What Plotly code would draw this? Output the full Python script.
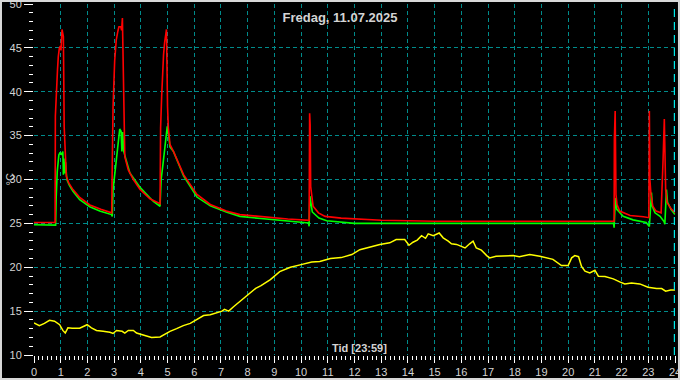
import plotly.graph_objects as go

TITLE = "Fredag, 11.07.2025"
NOW = "23:59"
Y_LABEL = "°C"

x_tick_vals = list(range(0, 25))
y_tick_vals = [10, 15, 20, 25, 30, 35, 40, 45, 50]
x_grid_vals = x_tick_vals[1:-1]
y_grid_vals = y_tick_vals[1:-1]

red_t = [0.0, 0.79, 0.80, 0.84, 0.88, 0.91, 0.95, 0.99, 1.01, 1.05, 1.10, 1.13, 1.17, 1.21, 1.30, 1.46,
         1.70, 2.09, 2.50, 2.91, 2.93, 2.96, 3.02, 3.08, 3.14, 3.18, 3.25, 3.28, 3.31, 3.36, 3.40, 3.53,
         3.72, 3.97, 4.34, 4.72, 4.74, 4.78, 4.81, 4.85, 4.89, 4.92, 4.96, 5.00, 5.03, 5.09, 5.22, 5.60,
         6.10, 6.60, 7.20, 7.71, 8.5, 9.0, 9.5, 10.30, 10.32, 10.34, 10.36, 10.45, 10.65, 10.9, 11.5,
         12.0, 13.0, 15.0, 21.72, 21.73, 21.76, 21.79, 21.83, 21.93, 22.32, 22.82, 23.02, 23.04, 23.06,
         23.10, 23.17, 23.29, 23.48, 23.55, 23.60, 23.65, 23.70, 23.87, 24.02]
red_v = [25.1, 25.1, 37.2, 40.6, 42.5, 44.0, 45.0, 45.2, 44.7, 47.1, 46.3, 36.0, 31.8, 30.4, 29.6, 28.85,
         28.0, 27.1, 26.6, 26.2, 31.7, 38.3, 43.5, 45.9, 46.9, 47.4, 47.4, 47.0, 48.4, 36.8, 32.6, 31.1,
         30.0, 28.85, 27.8, 27.25, 35.9, 39.5, 42.5, 44.2, 45.6, 46.4, 47.1, 38.3, 35.9, 34.0, 33.2, 30.55,
         28.3, 27.15, 26.4, 26.0, 25.75, 25.6, 25.5, 25.35, 37.55, 36.2, 29.2, 26.95, 26.2, 25.8, 25.6,
         25.5, 25.35, 25.25, 25.25, 34.55, 37.8, 28.3, 27.15, 26.4, 25.9, 25.75, 25.65, 37.8, 30.0,
         28.3, 26.95, 26.4, 26.2, 31.9, 36.9, 28.85, 27.4, 26.6, 26.2]

green_t = [0.0, 0.5, 0.81, 0.83, 0.87, 0.93, 0.98, 1.03, 1.08, 1.10, 1.12, 1.15, 1.18, 1.23, 1.33, 1.46,
           1.71, 2.09, 2.46, 2.90, 2.93, 2.96, 3.03, 3.09, 3.15, 3.21, 3.26, 3.29, 3.32, 3.36, 3.44, 3.59,
           3.97, 4.47, 4.72, 4.76, 4.82, 4.87, 4.93, 4.99, 5.04, 5.09, 5.22, 5.60, 6.10, 6.60, 7.20, 7.71,
           8.5, 9.5, 10.28, 10.30, 10.33, 10.42, 10.67, 10.96, 11.5, 12.0, 21.70, 21.72, 21.77, 21.82,
           22.06, 22.43, 22.92, 23.04, 23.12, 23.15, 23.25, 23.44, 23.59, 23.62, 23.68, 23.72, 23.85, 24.0]
green_v = [24.85, 24.8, 24.8, 27.9, 30.9, 32.8, 33.1, 32.8, 33.2, 30.55, 32.4, 30.7, 32.0, 30.0, 29.3, 28.65,
           27.7, 26.9, 26.4, 26.0, 25.8, 28.85, 30.75, 32.8, 34.7, 35.75, 35.5, 33.2, 35.4, 33.2, 32.3, 30.75,
           29.1, 27.5, 26.95, 30.0, 31.5, 33.0, 35.1, 36.05, 35.1, 33.7, 33.2, 30.4, 28.0, 27.0, 26.3, 25.8,
           25.55, 25.3, 25.05, 24.67, 28.1, 26.3, 25.6, 25.3, 25.1, 25.0, 25.0, 24.5, 27.9, 26.6,
           25.8, 25.4, 25.1, 24.65, 28.5, 26.95, 26.2, 25.8, 25.2, 24.9, 28.85, 27.4, 26.6, 26.0]

yellow_t = [0.0, 0.2, 0.39, 0.58, 0.77, 0.96, 1.08, 1.17, 1.27, 1.43, 1.71, 1.99, 2.15, 2.34, 2.59, 2.84,
            2.96, 3.09, 3.3, 3.4, 3.53, 3.72, 3.84, 4.03, 4.22, 4.4, 4.72, 4.9, 5.09, 5.34, 5.59, 5.85,
            6.1, 6.35, 6.6, 6.85, 7.04, 7.13, 7.29, 7.47, 7.66, 8.0, 8.3, 8.5, 8.85, 9.2, 9.6, 10.0,
            10.4, 10.7, 11.1, 11.5, 11.9, 12.2, 12.57, 12.95, 13.32, 13.56, 13.88, 14.04, 14.19, 14.35,
            14.51, 14.66, 14.76, 14.95, 15.17, 15.32, 15.51, 15.63, 15.82, 16.0, 16.14, 16.31, 16.44,
            16.56, 16.75, 16.95, 17.06, 17.3, 17.68, 17.94, 18.17, 18.56, 18.94, 19.2, 19.43, 19.75,
            20.0, 20.13, 20.25, 20.39, 20.5, 20.63, 20.81, 21.0, 21.13, 21.38, 21.69, 21.93, 22.12,
            22.37, 22.68, 22.99, 23.31, 23.5, 23.65, 23.84, 24.0]
yellow_v = [13.65, 13.35, 13.6, 13.95, 13.85, 13.45, 12.8, 12.5, 13.1, 13.05, 13.05, 13.45, 13.1, 12.8, 12.7, 12.6,
            12.45, 12.8, 12.7, 12.5, 12.8, 12.8, 12.5, 12.35, 12.15, 12.0, 12.05, 12.35, 12.7, 13.0, 13.35, 13.6,
            14.05, 14.5, 14.6, 14.8, 15.0, 15.2, 15.0, 15.5, 16.0, 16.8, 17.6, 17.9, 18.6, 19.5, 20.0, 20.3,
            20.6, 20.65, 21.0, 21.1, 21.45, 22.0, 22.33, 22.6, 22.78, 23.15, 23.15, 22.5, 22.85, 23.1,
            23.6, 23.3, 23.8, 23.6, 23.9, 23.35, 22.97, 22.67, 22.6, 22.4, 22.2, 22.67, 22.97,
            22.2, 21.95, 21.33, 21.07, 21.26, 21.26, 21.33, 21.2, 21.45, 21.26, 21.07, 20.9, 20.2,
            20.2, 21.07, 21.33, 21.2, 20.1, 19.55, 19.36, 19.66, 18.98, 18.95, 18.68, 18.33, 18.1,
            18.2, 18.1, 17.72, 17.57, 17.57, 17.27, 17.4, 17.4]

now_h = int(NOW.split(":")[0]) + int(NOW.split(":")[1]) / 60.0

FONT = "Liberation Sans, Arial, sans-serif"
GRID = "#008b8b"
TXT = "#d4d4d4"

fig = go.Figure()
# empty trace that only carries the interior grid axes
fig.add_trace(go.Scatter(x=[], y=[], xaxis="x2", yaxis="y2", showlegend=False, hoverinfo="skip"))
fig.add_trace(go.Scatter(x=yellow_t, y=yellow_v, mode="lines",
                         line=dict(color="#ffff00", width=1.5), showlegend=False, hoverinfo="skip"))
fig.add_trace(go.Scatter(x=green_t, y=green_v, mode="lines",
                         line=dict(color="#00ff00", width=1.6), showlegend=False, hoverinfo="skip"))
fig.add_trace(go.Scatter(x=red_t, y=red_v, mode="lines",
                         line=dict(color="#ff0000", width=1.6), showlegend=False, hoverinfo="skip"))

# current-time marker
fig.add_shape(type="line", xref="x", yref="paper", x0=now_h, x1=now_h, y0=0, y1=1,
              line=dict(color="#00e8e8", width=1.5, dash="8px,5px"), layer="above")

# outer frame of the picture
fig.add_shape(type="rect", xref="paper", yref="paper",
              x0=-0.0515, x1=1.0062, y0=-0.0684, y1=1.0085,
              line=dict(color="#d8d8d8", width=2), fillcolor="rgba(0,0,0,0)")

fig.add_annotation(text=f"Tid [{NOW}]", xref="paper", yref="paper", x=0.508, y=0.02,
                   showarrow=False, xanchor="center", yanchor="middle",
                   font=dict(family=FONT, size=11, color=TXT, weight="bold"))
fig.add_annotation(text=Y_LABEL, xref="paper", yref="paper", x=-0.039, y=0.5,
                   showarrow=False, xanchor="center", yanchor="middle", textangle=-90,
                   font=dict(family=FONT, size=11, color=TXT))

grid_common = dict(showgrid=True, gridcolor=GRID, griddash="4px,3px", gridwidth=1,
                   zeroline=False, showline=False, ticks="", showticklabels=False,
                   automargin=False)

fig.update_layout(
    width=680, height=380,
    margin=dict(l=34, r=5, t=4, b=25, autoexpand=False),
    paper_bgcolor="#000000", plot_bgcolor="#000000",
    title=dict(text=TITLE, x=0.5, xref="container", xanchor="center",
               y=1 - 17 / 380, yref="container", yanchor="middle",
               font=dict(family=FONT, size=13, color=TXT, weight="bold")),
    xaxis=dict(range=[0, 24], tickvals=x_tick_vals, ticktext=[str(v) for v in x_tick_vals],
               showgrid=False, zeroline=False, showline=False, automargin=False,
               ticks="outside", ticklen=7, tickcolor="#ffffff", tickwidth=1,
               ticklabeloverflow="allow",
               tickfont=dict(family=FONT, size=11, color=TXT),
               minor=dict(dtick=1 / 6, tick0=0, ticks="outside", ticklen=4,
                          tickcolor="#ffffff", tickwidth=1, showgrid=False)),
    yaxis=dict(range=[10, 50], tickvals=y_tick_vals, ticktext=[str(v) for v in y_tick_vals],
               showgrid=False, zeroline=False, showline=False, automargin=False,
               ticks="outside", ticklen=9, tickcolor="#ffffff", tickwidth=1,
               ticklabeloverflow="allow",
               tickfont=dict(family=FONT, size=11, color=TXT),
               minor=dict(dtick=1, tick0=10, ticks="outside", ticklen=4,
                          tickcolor="#ffffff", tickwidth=1, showgrid=False)),
    xaxis2=dict(range=[0, 24], tickvals=x_grid_vals, overlaying="x", anchor="y2", **grid_common),
    yaxis2=dict(range=[10, 50], tickvals=y_grid_vals, overlaying="y", anchor="x2", **grid_common),
)

fig.write_html("out.html", config={"displayModeBar": False},
               post_script="document.body.style.margin='0';document.body.style.overflow='hidden';")
